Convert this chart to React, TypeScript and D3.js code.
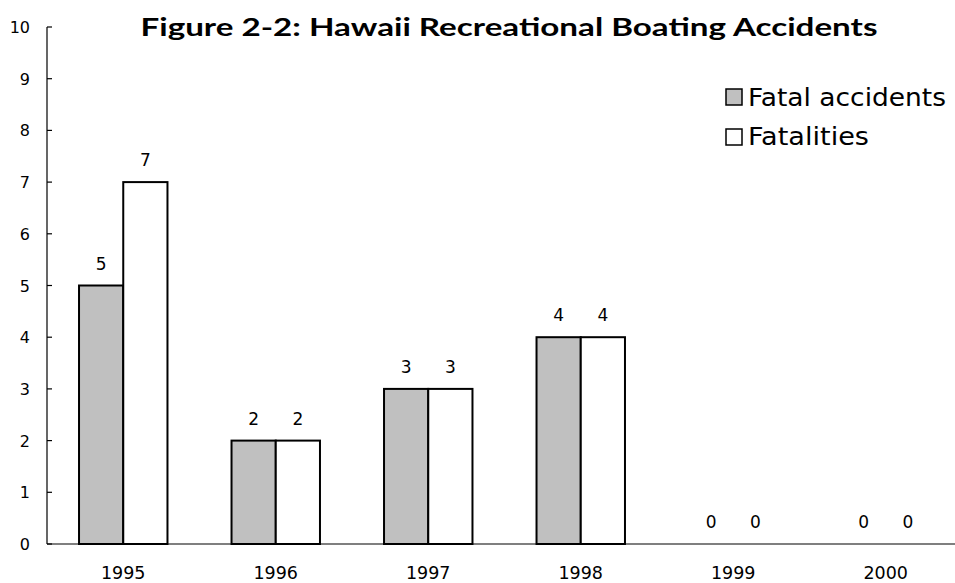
import React from "react";
import * as d3 from "d3";

const categories = ["1995", "1996", "1997", "1998", "1999", "2000"];
const fatalAccidents = [5, 2, 3, 4, 0, 0];
const fatalities = [7, 2, 3, 4, 0, 0];
const yTicks = [0, 1, 2, 3, 4, 5, 6, 7, 8, 9, 10];
const seriesNames = ["Fatal accidents", "Fatalities"];
const seriesColors = ["#c0c0c0", "#ffffff"];

const W = 955, H = 583;
const FONT = "'DejaVu Sans', sans-serif";
const TFONT = "Lato, 'DejaVu Sans', sans-serif";

export default function App() {
  const x0 = 47;
  const x = d3.scaleBand<string>().domain(categories).range([x0, x0 + 152.5 * 6]).paddingInner(0.42).paddingOuter(0.21);
  const y = d3.scaleLinear().domain([0, 10]).range([544, 27]);
  const inner = d3.scaleBand<number>().domain([0, 1]).range([0, x.bandwidth()]);
  const series = [fatalAccidents, fatalities];

  return (
    <svg width={W} height={H} style={{ position: "absolute", left: 0, top: 0, background: "#fff" }}>
      <text x={509} y={36} textAnchor="middle" fontFamily={TFONT} fontWeight="bold" fontSize={25} textLength={737} lengthAdjust="spacingAndGlyphs">
        Figure 2-2: Hawaii Recreational Boating Accidents
      </text>
      {yTicks.map((t) => (
        <g key={t}>
          <line x1={x0} x2={x0 + 5} y1={y(t)} y2={y(t)} stroke="#000" strokeWidth={1.2} />
          <text x={30} y={y(t) + 6} textAnchor="end" fontFamily={FONT} fontSize={16}>{t}</text>
        </g>
      ))}
      {categories.map((c, i) => (
        <g key={c}>
          {series.map((s, j) => {
            const bx = (x(c) as number) + (inner(j) as number);
            const bw = inner.bandwidth();
            return (
              <g key={j}>
                {s[i] > 0 && (
                  <rect x={bx} y={y(s[i])} width={bw} height={y(0) - y(s[i])} fill={seriesColors[j]} stroke="#000" strokeWidth={2} />
                )}
                <text x={bx + bw / 2} y={y(s[i]) - 16} textAnchor="middle" fontFamily={FONT} fontSize={17}>{s[i]}</text>
              </g>
            );
          })}
          <text x={(x(c) as number) + x.bandwidth() / 2} y={579} textAnchor="middle" fontFamily={FONT} fontSize={17.5}>{c}</text>
        </g>
      ))}
      <line x1={x0} x2={x0} y1={y(10)} y2={y(0)} stroke="#000" strokeWidth={1.2} />
      <line x1={x0} x2={W} y1={y(0)} y2={y(0)} stroke="#000" strokeWidth={1.2} />
      {seriesNames.map((n, j) => (
        <g key={n}>
          <rect x={726} y={89 + j * 40} width={16} height={16} fill={seriesColors[j]} stroke="#000" strokeWidth={1.5} />
          <text x={748} y={106 + j * 39} fontFamily={FONT} fontSize={25} textLength={j === 0 ? 198 : 121} lengthAdjust="spacingAndGlyphs">{n}</text>
        </g>
      ))}
    </svg>
  );
}
